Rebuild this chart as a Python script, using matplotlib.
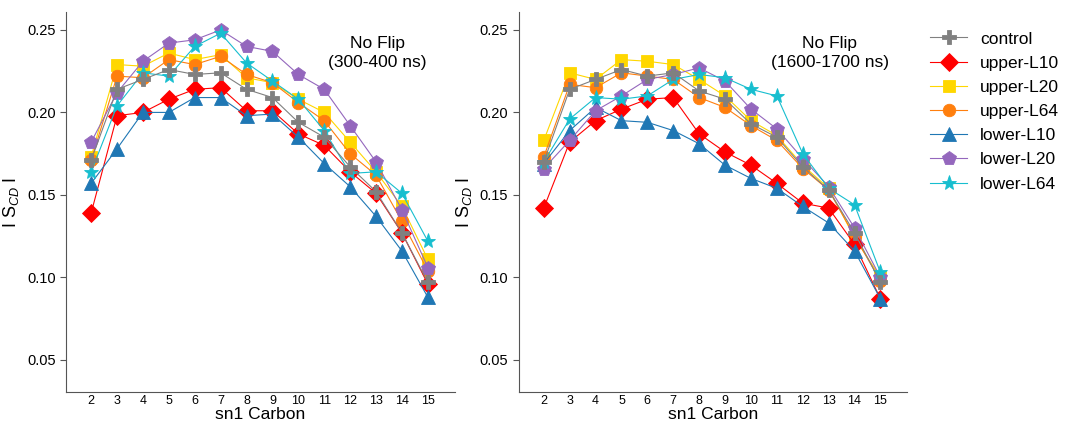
import matplotlib
matplotlib.use("Agg")
import matplotlib.pyplot as plt

plt.rcParams["font.family"] = ["Liberation Sans", "DejaVu Sans"]
plt.rcParams["mathtext.fontset"] = "custom"
plt.rcParams["mathtext.rm"] = "Liberation Sans"
plt.rcParams["mathtext.it"] = "Liberation Sans:italic"

carbons = list(range(2, 16))
labels = ["control", "upper-L10", "upper-L20", "upper-L64", "lower-L10", "lower-L20", "lower-L64"]

# S_CD order parameters, 300-400 ns window
early_control = [0.171, 0.214, 0.220, 0.226, 0.223, 0.224, 0.214, 0.209, 0.194, 0.185, 0.167, 0.152, 0.127, 0.097]
early_upper_l10 = [0.139, 0.198, 0.200, 0.208, 0.214, 0.215, 0.201, 0.201, 0.187, 0.180, 0.164, 0.151, 0.127, 0.096]
early_upper_l20 = [0.173, 0.229, 0.228, 0.236, 0.232, 0.235, 0.221, 0.218, 0.208, 0.200, 0.182, 0.164, 0.143, 0.111]
early_upper_l64 = [0.171, 0.222, 0.221, 0.232, 0.229, 0.234, 0.223, 0.218, 0.206, 0.195, 0.175, 0.162, 0.134, 0.104]
early_lower_l10 = [0.157, 0.178, 0.200, 0.200, 0.209, 0.209, 0.198, 0.199, 0.185, 0.169, 0.155, 0.137, 0.116, 0.088]
early_lower_l20 = [0.182, 0.212, 0.231, 0.242, 0.244, 0.250, 0.240, 0.237, 0.223, 0.214, 0.192, 0.170, 0.141, 0.106]
early_lower_l64 = [0.164, 0.204, 0.224, 0.222, 0.240, 0.248, 0.230, 0.219, 0.208, 0.189, 0.163, 0.164, 0.151, 0.122]

# S_CD order parameters, 1600-1700 ns window
late_control = [0.170, 0.214, 0.220, 0.226, 0.222, 0.224, 0.213, 0.208, 0.193, 0.185, 0.167, 0.153, 0.127, 0.097]
late_upper_l10 = [0.142, 0.182, 0.195, 0.202, 0.208, 0.209, 0.187, 0.176, 0.168, 0.157, 0.145, 0.142, 0.120, 0.087]
late_upper_l20 = [0.183, 0.224, 0.220, 0.232, 0.231, 0.229, 0.220, 0.210, 0.195, 0.186, 0.168, 0.154, 0.124, 0.100]
late_upper_l64 = [0.173, 0.217, 0.215, 0.224, 0.222, 0.220, 0.209, 0.203, 0.192, 0.183, 0.166, 0.153, 0.125, 0.098]
late_lower_l10 = [0.169, 0.189, 0.203, 0.195, 0.194, 0.189, 0.181, 0.168, 0.160, 0.154, 0.143, 0.133, 0.116, 0.087]
late_lower_l20 = [0.166, 0.183, 0.201, 0.210, 0.220, 0.223, 0.227, 0.219, 0.202, 0.190, 0.172, 0.155, 0.130, 0.100]
late_lower_l64 = [0.170, 0.196, 0.209, 0.208, 0.210, 0.220, 0.223, 0.221, 0.214, 0.210, 0.175, 0.154, 0.144, 0.103]

early = [early_control, early_upper_l10, early_upper_l20, early_upper_l64,
         early_lower_l10, early_lower_l20, early_lower_l64]
late = [late_control, late_upper_l10, late_upper_l20, late_upper_l64,
        late_lower_l10, late_lower_l20, late_lower_l64]

colors = ["#808080", "#ff0000", "#ffd700", "#ff7f0e", "#1f77b4", "#9467bd", "#17becf"]
markers = ["P", "D", "s", "o", "^", "p", "*"]
msizes = [10, 9, 9, 9, 10, 10, 11]
zorders = [9, 5, 3, 4, 6, 7, 8]

fig = plt.figure(figsize=(10.65, 4.26), dpi=100)
ax1 = fig.add_axes([0.062, 0.080, 0.365, 0.892])
ax2 = fig.add_axes([0.487, 0.080, 0.365, 0.892])

handles = []
for ax, data, title in [(ax1, early, "No Flip\n(300-400 ns)"),
                        (ax2, late, "No Flip\n(1600-1700 ns)")]:
    for i, vals in enumerate(data):
        h, = ax.plot(carbons, vals, color=colors[i], marker=markers[i],
                     markersize=msizes[i], linewidth=0.8, markeredgewidth=0.6,
                     markeredgecolor=colors[i], zorder=zorders[i], label=labels[i])
        if ax is ax1:
            handles.append(h)
    ax.set_xlim(1.03, 16.04)
    ax.set_ylim(0.0306, 0.2609)
    ax.set_xticks(carbons)
    ax.set_yticks([0.05, 0.10, 0.15, 0.20, 0.25])
    ax.set_yticklabels(["0.05", "0.10", "0.15", "0.20", "0.25"])
    ax.tick_params(axis="y", labelsize=10.5, color="#555555", length=4, direction="out")
    ax.tick_params(axis="x", labelsize=9, color="#555555", length=0, pad=2)
    for s in ["top", "right"]:
        ax.spines[s].set_visible(False)
    for s in ["left", "bottom"]:
        ax.spines[s].set_color("#555555")
        ax.spines[s].set_linewidth(0.8)
    ax.set_xlabel("sn1 Carbon", fontsize=12.5, labelpad=0)
    ax.set_ylabel("I S$_{\\it CD}$ I", fontsize=13, labelpad=4)
    ax.text(0.80, 0.892, title, transform=ax.transAxes, ha="center", va="center",
            fontsize=12.5, linespacing=1.3)

fig.legend(handles=handles, labels=labels, loc="upper left",
           bbox_to_anchor=(0.859, 0.963), frameon=False, fontsize=12.5,
           handlelength=2.1, labelspacing=0.52, handletextpad=0.75)

fig.savefig("out.png", dpi=100)
